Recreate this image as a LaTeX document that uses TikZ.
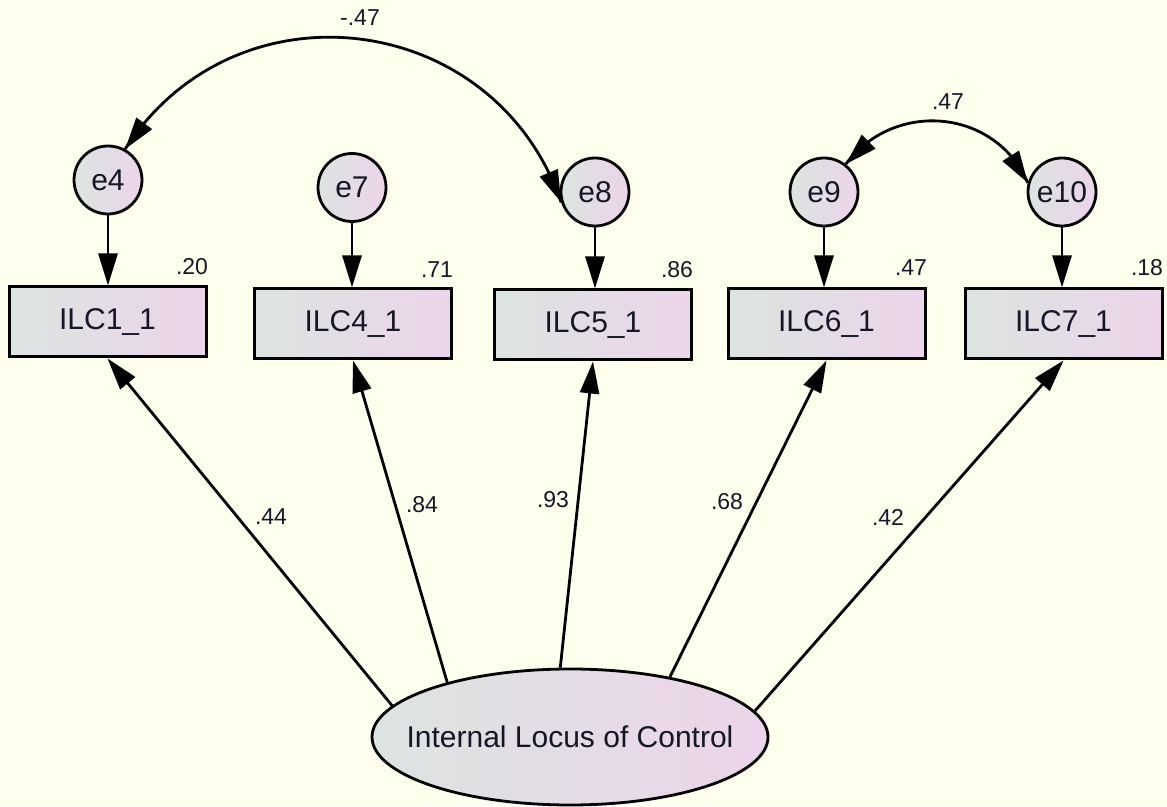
\documentclass[tikz,border=0pt]{standalone}
\usepackage{fontspec}
\setmainfont{Liberation Sans}
\usetikzlibrary{arrows.meta,shapes.geometric,calc}
\definecolor{bg}{RGB}{255,255,238}
\definecolor{fillL}{RGB}{220,228,225}
\definecolor{fillR}{RGB}{236,212,234}
\definecolor{ink}{RGB}{22,22,40}
\begin{document}
\begin{tikzpicture}[x=1pt,y=1pt,
  obs/.style={draw=black, line width=3pt, rectangle, minimum width=197pt,
    minimum height=70pt, inner sep=0pt, left color=fillL, right color=fillR,
    text=ink, font=\fontsize{30}{36}\selectfont},
  err/.style={draw=black, line width=2.8pt, circle, minimum size=68pt,
    inner sep=0pt, left color=fillL, right color=fillR,
    text=ink, font=\fontsize{30}{36}\selectfont},
  lat/.style={draw=black, line width=2.8pt, ellipse, minimum width=396pt,
    minimum height=136pt, inner sep=0pt, left color=fillL, right color=fillR,
    text=ink, font=\fontsize{30}{36}\selectfont},
  reg/.style={line width=2.8pt, -{Triangle[length=32pt,width=19pt]}},
  covline/.style={line width=2.8pt},
  num/.style={text=ink, font=\fontsize{23}{28}\selectfont, inner sep=0pt}
]
% canvas
\fill[bg] (0,0) rectangle (1167,806);
\useasboundingbox (0,0) rectangle (1167,806);

% latent factor
\node[lat] (lv) at (570,69) {\makebox[0pt]{Internal Locus of Control}};

% observed indicators
\node[obs] (b1) at (107.5,484) {ILC1\_1};
\node[obs] (b4) at (353,482) {ILC4\_1};
\node[obs] (b5) at (593,481) {ILC5\_1};
\node[obs] (b6) at (826.5,482) {ILC6\_1};
\node[obs] (b7) at (1063.5,482) {ILC7\_1};

% error terms
\node[err] (e4) at (108,626) {e4};
\node[err] (e7) at (352,618.5) {e7};
\node[err] (e8) at (595,614) {e8};
\node[err] (e9) at (824,614) {e9};
\node[err] (e10) at (1062,614) {e10};

% error -> indicator
\draw[reg] (e4) -- (e4 |- b1.north);
\draw[reg] (e7) -- (e7 |- b4.north);
\draw[reg] (e8) -- (e8 |- b5.north);
\draw[reg] (e9) -- (e9 |- b6.north);
\draw[reg] (e10) -- (e10 |- b7.north);

% factor loadings
\draw[reg] (lv.170.7) -- (b1.south);
\draw[reg] (lv.156.6) -- (b4.south);
\draw[reg] (lv.98.7) -- (b5.south);
\draw[reg] (lv.31.3) -- (b6.south);
\draw[reg] (lv.8.3) -- (b7.south);

% error covariances: circular arcs, heads added along the chord at each end
\draw[covline] (e4.61) .. controls +(57.2:204) and +(109:204) .. (e8.197);
\draw[reg] ($(e4.61)+(53.4:33)$) -- (e4.61);
\draw[reg] ($(e8.197)+(112.8:33)$) -- (e8.197);
\draw[covline] (e9.52) .. controls +(53:81) and +(113.6:81) .. (e10.165);
\draw[reg] ($(e9.52)+(44.4:33)$) -- (e9.52);
\draw[reg] ($(e10.165)+(122.3:33)$) -- (e10.165);

% estimates
\node[num] (l1) at (271,289) {.44};
\node[num] (l4) at (422,301) {.84};
\node[num] (l5) at (553,306) {.93};
\node[num] (l6) at (727,304) {.68};
\node[num] (l7) at (888,289) {.42};
\node[num] (c48) at (360,788) {-.47};
\node[num] (c910) at (948,704) {.47};
\node[num] (r1) at (192,539) {.20};
\node[num] (r4) at (437,536) {.71};
\node[num] (r5) at (677,536) {.86};
\node[num] (r6) at (911,538) {.47};
\node[num] (r7) at (1147,538) {.18};
\end{tikzpicture}
\end{document}
